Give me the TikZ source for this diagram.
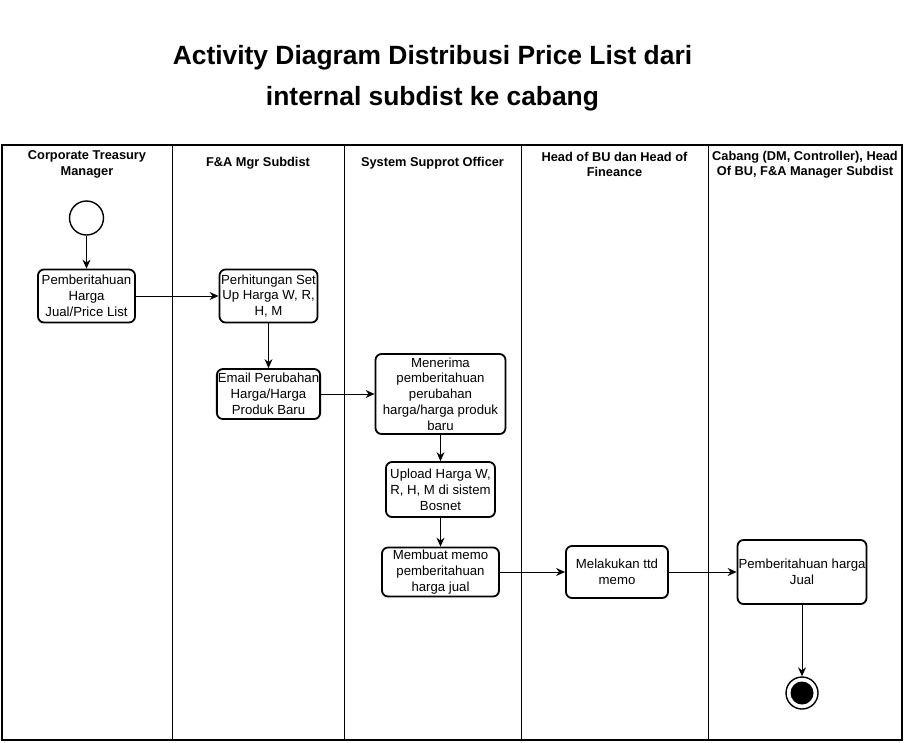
\documentclass[tikz,border=0pt]{standalone}
\usepackage{fontspec}
\setmainfont{Liberation Sans}
\usetikzlibrary{arrows.meta,positioning}
\newcommand\actfont{\fontsize{13.2}{15.8}\selectfont}
\newcommand\hdrfont{\fontsize{12.8}{15.4}\selectfont\bfseries}
\tikzset{
  act/.style={draw,line width=1.8pt,rounded corners=6pt,align=center,
              font=\actfont,inner sep=1pt},
  hdr/.style={font=\hdrfont,align=center,inner sep=0pt},
  ttl/.style={font=\fontsize{26.4}{41}\selectfont\bfseries,align=center,inner sep=0pt},
  ar/.style ={-{Stealth[length=9pt,width=8pt,inset=3pt]},line width=1pt},
  lane/.style={line width=1pt},
  ini/.style={circle,draw,line width=1.4pt,minimum size=34pt,inner sep=0pt},
  fin/.style={circle,draw,line width=1.4pt,minimum size=32pt,inner sep=0pt,
              path picture={\fill (path picture bounding box.center) circle (11.5pt);}},
}

\begin{document}
\begin{tikzpicture}[x=1pt,y=-1pt]
  \useasboundingbox (0,0) rectangle (904,742);
  \node[ttl] (title) at (432.5,78.6) {Activity Diagram Distribusi Price List dari\\internal subdist ke cabang};
  % pool and lanes
  \draw[line width=1.3pt] (2,145) rectangle (902,740);
  \foreach \x in {172,344,521,708} \draw[lane] (\x,145) -- (\x,740);
  \node[hdr] (h1) at (87,164.5)  {Corporate Treasury\\Manager};
  \node[hdr] (h2) at (258,163)   {F\&A Mgr Subdist};
  \node[hdr] (h3) at (432.5,163) {System Supprot Officer};
  \node[hdr] (h4) at (614.5,164.5) {Head of BU dan Head of\\Fineance};
  \node[hdr] (h5) at (805,164.5) {Cabang (DM, Controller), Head\\Of BU, F\&A Manager Subdist};
  % activities
  \node[ini] (start) at (86.5,218) {};
  \node[act,minimum width=97pt,minimum height=53pt] (pemb) at (86.5,296) {Pemberitahuan\\Harga\\Jual/Price List};
  \node[act,minimum width=98pt,minimum height=53pt] (hitung) at (268.5,296) {Perhitungan Set\\Up Harga W, R,\\H, M};
  \node[act,minimum width=102pt,minimum height=50pt] (email) at (268.5,394) {Email Perubahan\\Harga/Harga\\Produk Baru};
  \node[act,minimum width=130pt,minimum height=80pt] (terima) at (440.5,394) {Menerima\\pemberitahuan\\perubahan\\harga/harga produk\\baru};
  \node[act,minimum width=109pt,minimum height=55pt] (upload) at (440.5,489.5) {Upload Harga W,\\R, H, M di sistem\\Bosnet};
  \node[act,minimum width=117pt,minimum height=49pt] (memo) at (440.5,572) {Membuat memo\\pemberitahuan\\harga jual};
  \node[act,minimum width=102pt,minimum height=52pt] (ttd) at (617,572) {Melakukan ttd\\memo};
  \node[act,minimum width=128pt,minimum height=64pt] (jual) at (802,572) {Pemberitahuan harga\\Jual};
  \node[fin] (finish) at (802,693) {};
  % flow
  \draw[ar] (start) -- (pemb);
  \draw[ar] (pemb) -- (hitung);
  \draw[ar] (hitung) -- (email);
  \draw[ar] (email) -- (terima);
  \draw[ar] (terima) -- (upload);
  \draw[ar] (upload) -- (memo);
  \draw[ar] (memo) -- (ttd);
  \draw[ar] (ttd) -- (jual);
  \draw[ar] (jual) -- (finish);
\end{tikzpicture}
\end{document}
